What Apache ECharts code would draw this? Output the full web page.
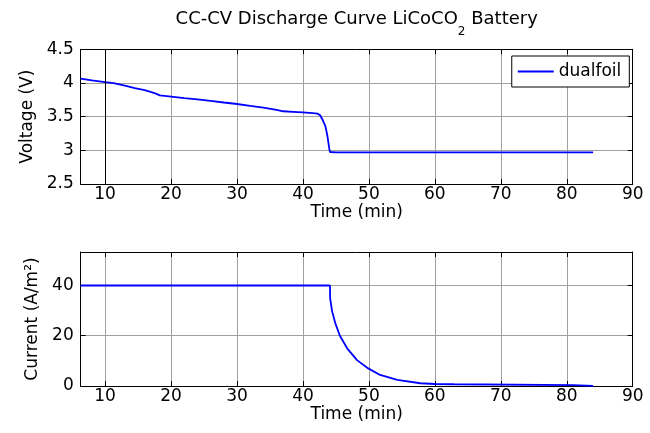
<!DOCTYPE html>
<html>
<head>
<meta charset="utf-8">
<script src="https://cdn.jsdelivr.net/npm/echarts@6/dist/echarts.min.js"></script>
<style>
html,body{margin:0;padding:0;background:#fff;}
#chart{width:650px;height:433px;}
</style>
</head>
<body>
<div id="chart"></div>
<script>
// ---- data ----
const titleMain = 'CC-CV Discharge Curve LiCoCO';
const titleSub = '2';
const titleEnd = ' Battery';
const seriesName = 'dualfoil';
const xName = 'Time (min)';
const yNameV = 'Voltage (V)';
const yNameI = 'Current (A/m²)';

const xRange = [6.3, 90];
const vRange = [2.5, 4.5];
const iRange = [0, 53.33];
const vTickStep = 0.5;
const iTickStep = 20;

const timeV = [6.3, 8, 10, 11.3, 13, 14.5, 16, 17.5, 18.3, 20, 22, 24, 26, 28, 30, 32, 34, 36, 37, 38.5, 40, 41.5, 42.2, 42.6, 43.0, 43.4, 43.7, 44.0, 44.1, 45, 84];
const voltage = [4.065, 4.04, 4.012, 3.998, 3.96, 3.925, 3.893, 3.85, 3.815, 3.797, 3.775, 3.755, 3.735, 3.71, 3.688, 3.66, 3.635, 3.6, 3.58, 3.572, 3.562, 3.552, 3.545, 3.52, 3.45, 3.36, 3.22, 3.02, 2.975, 2.97, 2.97];

const timeI = [6.3, 44.1, 44.12, 44.4, 44.9, 45.6, 46.7, 48.2, 49.9, 51.7, 54.3, 57.8, 60, 62.9, 63.0, 81.0, 81.2, 84];
const current = [40, 40, 35, 30, 25, 20, 15, 10.3, 7.0, 4.4, 2.4, 1.1, 0.8, 0.7, 0.4, 0.35, 0.05, 0.05];

const markX = [10];

// ---- chart ----
const FONT = 'DejaVu Sans';
const FS = 17;
const chart = echarts.init(document.getElementById('chart'), null, {renderer: 'canvas'});

const gridL = 80.7, gridR = 650 - 632.7;
const splitStyle = {show: true, lineStyle: {color: '#a0a0a0', width: 1, type: 'solid'}};
const tickIn = {show: true, inside: true, length: 5, lineStyle: {color: '#000', width: 1}};
const lineBlack = {show: true, onZero: false, lineStyle: {color: '#000', width: 1}};
const labelStyle = {color: '#000', fontFamily: FONT, fontSize: FS, fontWeight: 'normal'};

function xMain(gridIndex) {
  return {
    type: 'value', gridIndex, position: 'bottom',
    min: xRange[0], max: xRange[1], splitNumber: 8, minInterval: 10, maxInterval: 10,
    axisLine: lineBlack, axisTick: tickIn, splitLine: splitStyle,
    axisLabel: Object.assign({margin: 2, showMinLabel: false, showMaxLabel: true}, labelStyle),
    name: xName, nameLocation: 'middle', nameGap: 17,
    nameTextStyle: labelStyle
  };
}
function xTop(gridIndex) {
  return {
    type: 'value', gridIndex, position: 'top',
    min: xRange[0], max: xRange[1], splitNumber: 8, minInterval: 10, maxInterval: 10,
    axisLine: lineBlack, axisTick: tickIn, splitLine: {show: false},
    axisLabel: {show: false}
  };
}
function yRight(gridIndex, range, step) {
  return {
    type: 'value', gridIndex, position: 'right',
    min: range[0], max: range[1], interval: step,
    axisLine: lineBlack, axisTick: tickIn, splitLine: {show: false},
    axisLabel: {show: false}
  };
}

const option = {
  backgroundColor: '#fff',
  animation: false,
  title: {
    left: (gridL + 632.7) / 2, top: 10, padding: 0, textAlign: 'center',
    text: '{a|' + titleMain + '}{s|' + titleSub + '}{a|' + titleEnd + '}',
    textStyle: {
      fontWeight: 'normal',
      rich: {
        a: {fontFamily: FONT, fontSize: 18, fontWeight: 'normal', color: '#000', lineHeight: 22, verticalAlign: 'top'},
        s: {fontFamily: FONT, fontSize: 12, fontWeight: 'normal', color: '#000', lineHeight: 22, verticalAlign: 'top', padding: [16, 0, 0, 0]}
      }
    }
  },
  legend: {
    data: [{name: seriesName, icon: 'rect'}],
    right: 650 - 629.3, top: 56,
    orient: 'vertical',
    backgroundColor: '#fff', borderColor: '#000', borderWidth: 1,
    padding: [7, 8, 7, 6],
    itemWidth: 36, itemHeight: 2,
    itemStyle: {color: '#0000ff', borderWidth: 0},
    textStyle: labelStyle
  },
  grid: [
    {left: gridL, right: gridR, top: 49.3, height: 134.7, containLabel: false},
    {left: gridL, right: gridR, top: 252, height: 134, containLabel: false}
  ],
  xAxis: [xMain(0), xTop(0), xMain(1), xTop(1)],
  yAxis: [
    {
      type: 'value', gridIndex: 0, position: 'left',
      min: vRange[0], max: vRange[1], interval: vTickStep,
      axisLine: lineBlack, axisTick: tickIn, splitLine: splitStyle,
      axisLabel: Object.assign({margin: 7}, labelStyle),
      name: yNameV, nameLocation: 'middle', nameGap: 35, nameRotate: 90,
      nameTextStyle: labelStyle
    },
    yRight(0, vRange, vTickStep),
    {
      type: 'value', gridIndex: 1, position: 'left',
      min: iRange[0], max: iRange[1], interval: iTickStep,
      axisLine: lineBlack, axisTick: tickIn, splitLine: splitStyle,
      axisLabel: Object.assign({margin: 7, showMaxLabel: false}, labelStyle),
      name: yNameI, nameLocation: 'middle', nameGap: 30, nameRotate: 90,
      nameTextStyle: labelStyle
    },
    yRight(1, iRange, iTickStep)
  ],
  series: [
    {
      name: seriesName, type: 'line', xAxisIndex: 0, yAxisIndex: 0,
      data: timeV.map((t, i) => [t, voltage[i]]),
      symbol: 'none', showSymbol: false, smooth: false,
      lineStyle: {color: '#0000ff', width: 1.8}, itemStyle: {color: '#0000ff'},
      markLine: {
        silent: true, symbol: 'none', label: {show: false},
        lineStyle: {color: '#000', width: 1, type: 'solid'},
        data: markX.map(v => ({xAxis: v}))
      },
      z: 3
    },
    {
      name: 'current', type: 'line', xAxisIndex: 2, yAxisIndex: 2,
      data: timeI.map((t, i) => [t, current[i]]),
      symbol: 'none', showSymbol: false, smooth: false,
      lineStyle: {color: '#0000ff', width: 1.8}, itemStyle: {color: '#0000ff'},
      z: 3
    }
  ]
};
chart.setOption(option);
</script>
</body>
</html>
